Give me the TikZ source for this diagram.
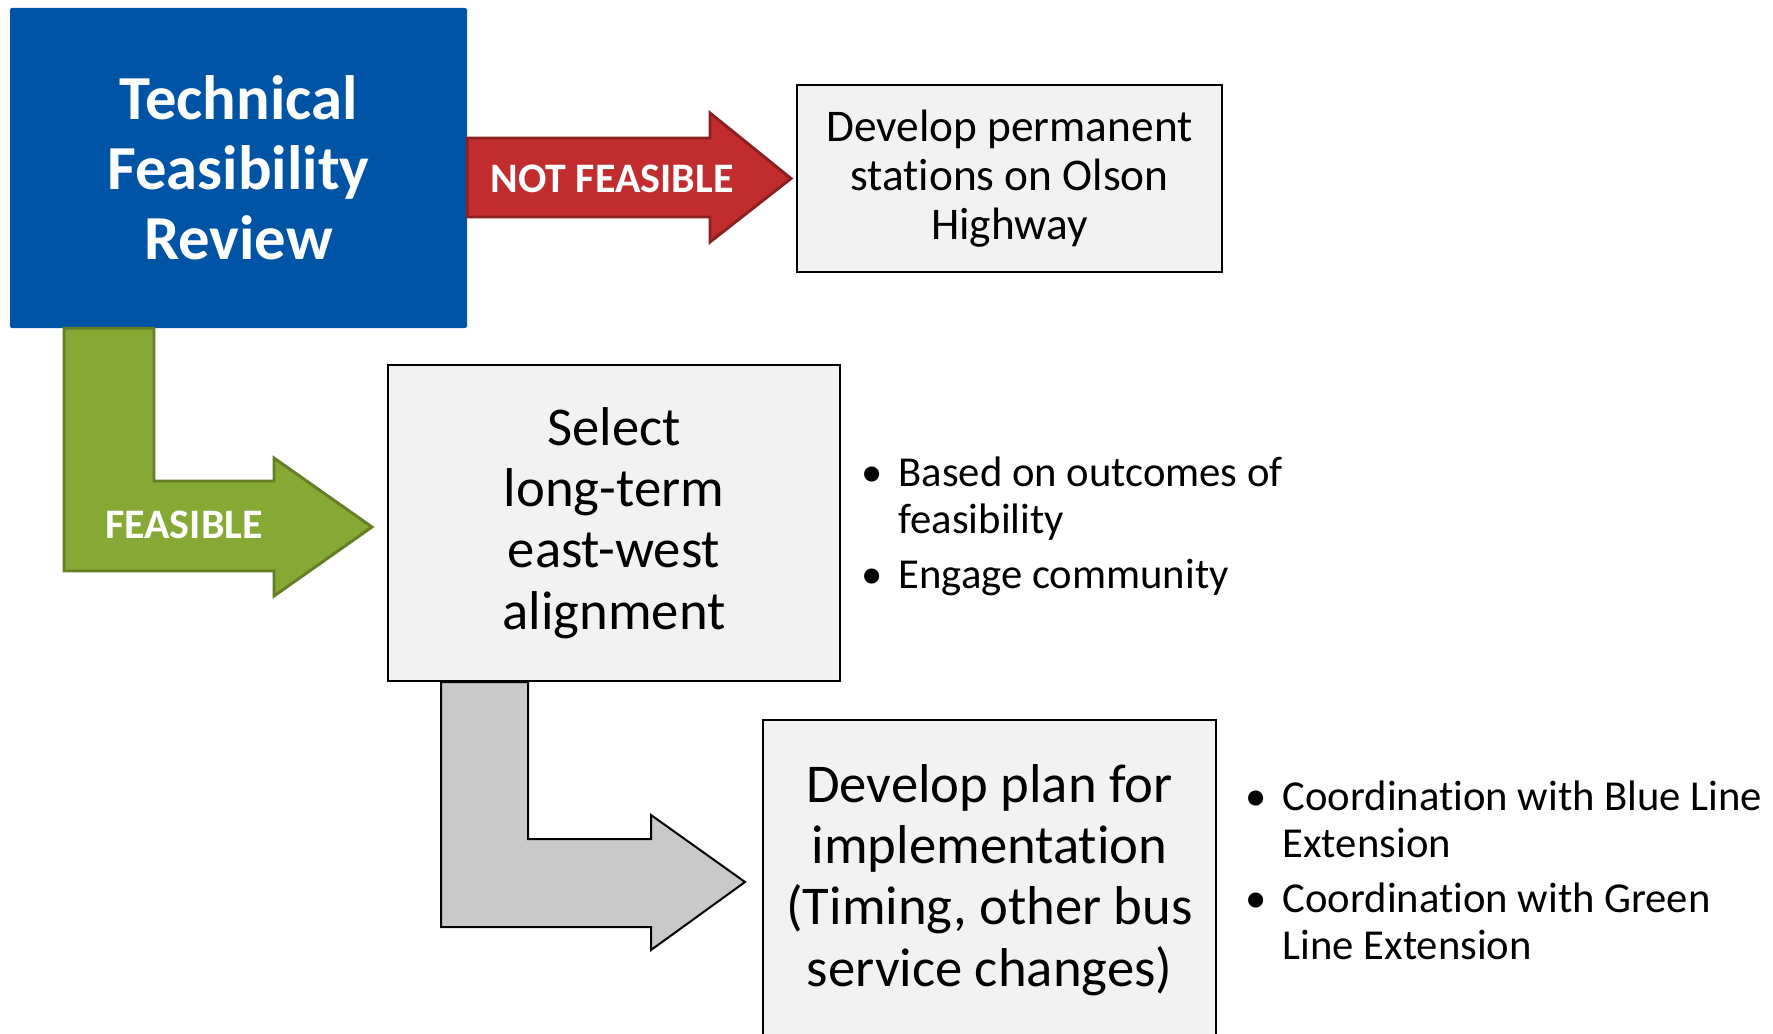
\documentclass[tikz,border=0pt]{standalone}
\usepackage{fontspec}
\setmainfont{Carlito}[Ligatures=NoCommon]
\usepackage{xcolor}
\usetikzlibrary{calc,positioning}
\definecolor{reviewblue}{HTML}{0054A6}
\definecolor{nogored}{HTML}{C12D2E}
\colorlet{nogoedge}{nogored!72!black}
\definecolor{gogreen}{HTML}{86A834}
\colorlet{goedge}{gogreen!75!black}
\definecolor{nextgray}{HTML}{C9C9C9}
\definecolor{stepfill}{HTML}{F2F2F2}
\tikzstyle{reviewbox} =[
    fill=reviewblue,
    text=white,
    rectangle,
    rounded corners=1.5pt,
    font=\fontsize{47}{52.5}\selectfont\bfseries,
    align=center,
    minimum width=342.75pt,
    minimum height=240pt,
    inner sep=0pt
    ]
\tikzstyle{stepbox} = [
    draw=black,
    fill=stepfill,
    line width=1.5pt,
    rectangle,
    align=center,
    inner sep=0pt
    ]
\tikzstyle{arrowlabel} = [
    text=white,
    font=\fontsize{31.5}{36}\selectfont\bfseries,
    inner sep=0pt
    ]
\tikzstyle{notes} = [
    font=\fontsize{32}{35.25}\selectfont,
    inner sep=0pt
    ]

\begin{document}
\begin{tikzpicture}[x=0.75pt,y=-0.75pt]
\useasboundingbox (0,0) rectangle (1773,1034);
\begin{scope}
\clip (0,0) rectangle (1773,1034);
% boxes
\node [reviewbox] (review) at (238.5,168) {Technical\\Feasibility\\Review};
\node [stepbox, minimum width=318.75pt, minimum height=140.25pt,
    font=\fontsize{34}{36.5}\selectfont] (permanent) at (1009.5,178.5)
    {Develop permanent\\stations on Olson\\Highway};
\node [stepbox, minimum width=339pt, minimum height=237pt,
    font=\fontsize{41}{46}\selectfont] (alignment) at (614,523)
    {Select\\long-term\\east-west\\alignment};
\node [stepbox, minimum width=339.75pt, minimum height=240pt,
    font=\fontsize{41}{46}\selectfont] (plan) at (989.5,880)
    {Develop plan for\\implementation\\(Timing, other bus\\service changes)};

% not feasible arrow
\draw [fill=nogored, draw=nogoedge, line width=2.2pt]
    (review.east |- 0,138) -- (710,138) -- (710,113)
    -- ($(permanent.west)+(-5,0)$) -- (710,242) -- (710,217)
    -- (review.east |- 0,217) -- cycle;
\node [arrowlabel] (nogo) at (612,179) {NOT FEASIBLE};

% feasible arrow
\draw [fill=gogreen, draw=goedge, line width=2.2pt]
    (64,0 |- review.south) -- (64,571) -- (274,571) -- (274,596)
    -- ($(alignment.west |- 0,527)+(-15,0)$) -- (274,458) -- (274,481)
    -- (154,481) -- (154,0 |- review.south) -- cycle;
\node [arrowlabel] (go) at (184,525) {FEASIBLE};

% next step arrow
\draw [fill=nextgray, draw=black, line width=1.5pt]
    (441,0 |- alignment.south) -- (441,927) -- (651,927) -- (651,950)
    -- ($(plan.west |- 0,882)+(-17,0)$) -- (651,815) -- (651,839)
    -- (528,839) -- (528,0 |- alignment.south) -- cycle;

% notes
\node [notes, right=15pt of alignment, yshift=-3.5pt] (outcomes) {%
    \begin{tabular}{@{}p{28pt}@{}l@{}}
    \textbullet & Based on outcomes of\\
     & feasibility\\[6pt]
    \textbullet & Engage community
    \end{tabular}};
\node [notes, right=21pt of plan, yshift=3pt] (coordination) {%
    \begin{tabular}{@{}p{28pt}@{}l@{}}
    \textbullet & Coordination with Blue Line\\
     & Extension\\[6pt]
    \textbullet & Coordination with Green\\
     & Line Extension
    \end{tabular}};
\end{scope}
\end{tikzpicture}
\end{document}
